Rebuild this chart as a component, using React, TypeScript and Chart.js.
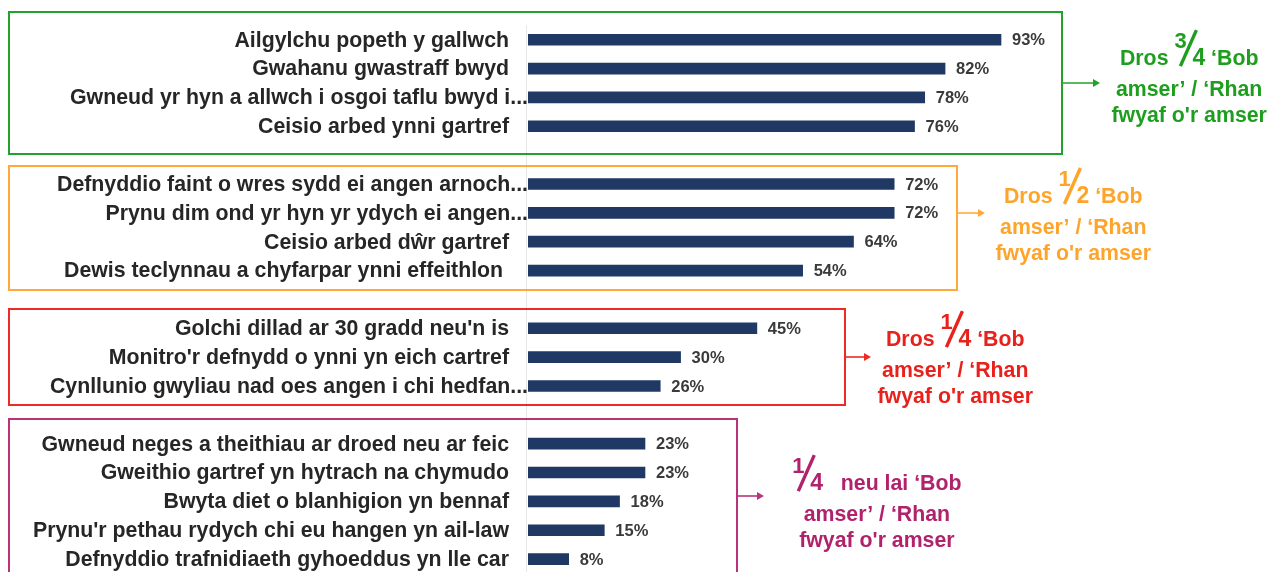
import React, { useEffect, useRef } from 'react';
import { Chart, registerables } from 'chart.js';

Chart.register(...registerables);

// ---------- data ----------
const categories: string[] = [
  'Ailgylchu popeth y gallwch',
  'Gwahanu gwastraff bwyd',
  'Gwneud yr hyn a allwch i osgoi taflu bwyd i...',
  'Ceisio arbed ynni gartref',
  '',
  'Defnyddio faint o wres sydd ei angen arnoch...',
  'Prynu dim ond yr hyn yr ydych ei angen...',
  'Ceisio arbed dŵr gartref',
  'Dewis teclynnau a chyfarpar ynni effeithlon ',
  '',
  "Golchi dillad ar 30 gradd neu'n is",
  "Monitro'r defnydd o ynni yn eich cartref",
  'Cynllunio gwyliau nad oes angen i chi hedfan...',
  '',
  'Gwneud neges a theithiau ar droed neu ar feic',
  'Gweithio gartref yn hytrach na chymudo',
  'Bwyta diet o blanhigion yn bennaf',
  "Prynu'r pethau rydych chi eu hangen yn ail-law",
  'Defnyddio trafnidiaeth gyhoeddus yn lle car',
];

const values: (number | null)[] = [93, 82, 78, 76, null, 72, 72, 64, 54, null, 45, 30, 26, null, 23, 23, 18, 15, 8];

const groupPrefix = ['Dros ', 'Dros ', 'Dros ', ''];
const groupNumerator = ['3', '1', '1', '1'];
const groupDenominator = ['4', '2', '4', '4'];
const groupSuffix = [' ‘Bob', ' ‘Bob', ' ‘Bob', '   neu lai ‘Bob'];
const groupLine2 = 'amser’ / ‘Rhan';
const groupLine3 = "fwyaf o'r amser";

// ---------- styles / layout of the decorations ----------
const FONT = '"Liberation Sans", Arial, sans-serif';
const BAR_COLOR = '#1F3864';
const LABEL_COLOR = '#262626';
const VALUE_COLOR = '#3A3A3A';

const groupStyle = [
  { color: '#22A22A', text: '#1E9E1E', top: -0.96, bottom: 3.96, right: 105, arrowRow: 1.5, arrowLen: 38, textX: 130, textRow: 0.88 },
  { color: '#FFAA38', text: '#FFA42A', top: 4.38, bottom: 8.68, right: 84.35, arrowRow: 6.0, arrowLen: 28, textX: 107.2, textRow: 5.66 },
  { color: '#EE2A24', text: '#E8211C', top: 9.33, bottom: 12.66, right: 62.3, arrowRow: 11.0, arrowLen: 26, textX: 84.0, textRow: 10.62 },
  { color: '#B8337A', text: '#B0226B', top: 13.15, bottom: 19.5, right: 41.1, arrowRow: 15.83, arrowLen: 27, textX: 68.6, textRow: 15.61 },
];

const overlayPlugin = {
  id: 'overlay',
  afterDatasetsDraw(chart: any) {
    const { ctx, chartArea, scales } = chart;
    const xs = scales.x;
    const ys = scales.y;
    ctx.save();

    // faint axis line
    ctx.strokeStyle = '#E6E6E6';
    ctx.lineWidth = 1;
    ctx.beginPath();
    ctx.moveTo(chartArea.left - 1.5, chartArea.top);
    ctx.lineTo(chartArea.left - 1.5, chartArea.bottom + 30);
    ctx.stroke();

    // category labels
    ctx.font = `bold 21.3px ${FONT}`;
    ctx.fillStyle = LABEL_COLOR;
    ctx.textAlign = 'right';
    ctx.textBaseline = 'middle';
    categories.forEach((c, i) => {
      if (!c) return;
      const trunc = c.endsWith('...');
      ctx.fillText(c, chartArea.left - (trunc ? 0 : 19), ys.getPixelForValue(i) + 1);
    });

    // value labels
    ctx.font = `bold 16.5px ${FONT}`;
    ctx.fillStyle = VALUE_COLOR;
    ctx.textAlign = 'left';
    const meta = chart.getDatasetMeta(0);
    meta.data.forEach((bar: any, i: number) => {
      const v = values[i];
      if (v == null) return;
      ctx.fillText(`${v}%`, bar.x + 11, bar.y + 1);
    });

    // boxes, arrows, annotations
    groupStyle.forEach((g, gi) => {
      const left = 9;
      const right = Math.round(xs.getPixelForValue(g.right));
      const top = Math.round(ys.getPixelForValue(g.top));
      const bottom = Math.round(ys.getPixelForValue(g.bottom));
      ctx.strokeStyle = g.color;
      ctx.lineWidth = 2;
      ctx.strokeRect(left, top, right - left, bottom - top);

      // arrow
      const ay = Math.round(ys.getPixelForValue(g.arrowRow));
      const tip = right + g.arrowLen;
      ctx.lineWidth = 1.6;
      ctx.beginPath();
      ctx.moveTo(right, ay);
      ctx.lineTo(tip - 5, ay);
      ctx.stroke();
      ctx.fillStyle = g.color;
      ctx.beginPath();
      ctx.moveTo(tip, ay);
      ctx.lineTo(tip - 7, ay - 4);
      ctx.lineTo(tip - 7, ay + 4);
      ctx.closePath();
      ctx.fill();

      // annotation text
      const cx = xs.getPixelForValue(g.textX);
      const base = ys.getPixelForValue(g.textRow);
      ctx.fillStyle = g.text;
      ctx.strokeStyle = g.text;
      ctx.textBaseline = 'alphabetic';
      const textFont = `bold 21.3px ${FONT}`;
      const numFont = `bold 22px ${FONT}`;
      const denFont = `bold 23px ${FONT}`;
      ctx.font = textFont;
      const wPre = ctx.measureText(groupPrefix[gi]).width;
      const wSuf = ctx.measureText(groupSuffix[gi]).width;
      ctx.font = denFont;
      const wDen = ctx.measureText(groupDenominator[gi]).width;
      const wFrac = 18 + wDen;
      const total = wPre + wFrac + wSuf;
      let x0 = cx - total / 2;
      ctx.textAlign = 'left';
      ctx.font = textFont;
      ctx.fillText(groupPrefix[gi], x0, base);
      x0 += wPre;
      ctx.font = numFont;
      ctx.fillText(groupNumerator[gi], x0, base - 17);
      ctx.lineWidth = 3.4;
      ctx.beginPath();
      ctx.moveTo(x0 + 6, base + 1);
      ctx.lineTo(x0 + 22, base - 35);
      ctx.stroke();
      ctx.font = denFont;
      ctx.fillText(groupDenominator[gi], x0 + 18, base);
      x0 += wFrac;
      ctx.font = textFont;
      ctx.fillText(groupSuffix[gi], x0, base);

      ctx.textAlign = 'center';
      ctx.fillText(groupLine2, cx, base + 31);
      ctx.fillText(groupLine3, cx, base + 57);
    });

    ctx.restore();
  },
};

export default function App() {
  const canvasRef = useRef<HTMLCanvasElement | null>(null);

  useEffect(() => {
    if (!canvasRef.current) return;
    const chart = new Chart(canvasRef.current, {
      type: 'bar',
      data: {
        labels: categories,
        datasets: [
          {
            data: values,
            backgroundColor: BAR_COLOR,
            barThickness: 11,
          },
        ],
      },
      options: {
        indexAxis: 'y',
        animation: false,
        responsive: true,
        maintainAspectRatio: false,
        layout: { padding: { left: 528, right: 234.4, top: 25.3, bottom: 26.5 } },
        plugins: {
          legend: { display: false },
          tooltip: { enabled: false },
          title: { display: false },
        },
        scales: {
          x: { display: false, min: 0, max: 100 },
          y: { display: false },
        },
      },
      plugins: [overlayPlugin],
    });
    return () => chart.destroy();
  }, []);

  return (
    <div style={{ position: 'fixed', left: 0, top: 0, width: 1271, height: 572, overflow: 'hidden', background: '#fff' }}>
      <div style={{ position: 'relative', width: 1271, height: 600 }}>
        <canvas ref={canvasRef} />
      </div>
    </div>
  );
}
